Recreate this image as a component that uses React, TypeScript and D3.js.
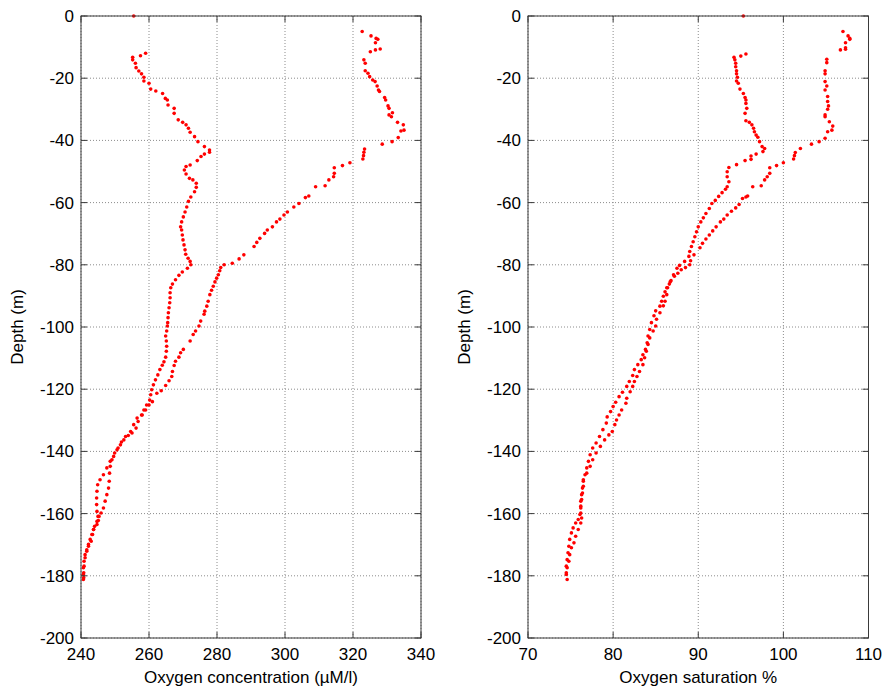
import React from "react";
import * as d3 from "d3";

// ---------- data: [value, depth] pairs ----------
const concProfileA: [number, number][] = [
  [255.5,0],[259.0,-12.0],[257.5,-12.8],[255.2,-13.3],[255.2,-14.1],[256.0,-15.2],[256.2,-16.6],[257.0,-17.7],[257.8,-18.6],[258.5,-19.7],[258.5,-20.9],[260.0,-21.6],[260.5,-23.5],[262.0,-24.1],[264.0,-24.9],[264.8,-26.5],[265.4,-27.0],[265.6,-28.6],[267.4,-29.7],[267.4,-31.3],[268.6,-33.4],[269.9,-34.2],[270.9,-35.0],[271.6,-36.1],[272.1,-37.4],[273.4,-38.8],[274.4,-40.4],[276.3,-42.0],[277.8,-43.1],[277.8,-43.8],[276.3,-44.4],[275.3,-45.2],[274.2,-46.5],[272.1,-47.9],[270.9,-48.4],[270.4,-49.5],[270.9,-50.8],[271.9,-52.2],[272.9,-52.7],[273.9,-53.8],[273.9,-55.1],[273.4,-56.5],[272.3,-58.2],[271.6,-59.6],[271.1,-61.4],[270.6,-63.0],[270.1,-64.6],[269.6,-66.2],[269.3,-67.8],[269.6,-68.8],[269.8,-70.4],[270.0,-72.0],[270.3,-73.6],[270.6,-75.2],[270.8,-76.6],[271.5,-77.9],[272.1,-78.9],[272.3,-80.0],[271.3,-81.1],[269.8,-82.3],[268.8,-83.4],[267.8,-84.8],[266.9,-86.2],[266.4,-87.4],[266.2,-89.0],[266.2,-90.6],[266.1,-92.2],[265.9,-93.8],[265.7,-95.4],[265.6,-97.0],[265.5,-98.6],[265.4,-99.7],[265.2,-101.3],[264.9,-102.9],[265.1,-104.5],[265.2,-106.2],[265.1,-107.8],[264.9,-109.7],[264.4,-111.2],[263.9,-112.3],[263.2,-113.7],[262.6,-115.4],[261.9,-117.0],[261.3,-118.6],[260.8,-120.2],[260.5,-121.8],[260.2,-123.5],[259.3,-125.1],[258.5,-126.7],[257.8,-128.3],[256.8,-130.4],[256.2,-132.5],[255.0,-134.1],[253.9,-134.9],[252.6,-136.3],[251.6,-137.9],[250.6,-139.5],[249.6,-141.6],[248.6,-143.2],[247.6,-145.3],[246.6,-147.5],[245.6,-149.1],[244.9,-150.7],[244.7,-152.8],[244.6,-155.0],[244.6,-157.1],[244.7,-159.3],[245.0,-160.9],[245.1,-162.2],[244.7,-163.5],[243.7,-165.1],[243.2,-166.7],[242.7,-168.3],[242.2,-169.9],[241.7,-171.6],[241.2,-173.2],[240.9,-175.3],[240.7,-177.4],[240.7,-179.6],[240.7,-181.2]
];

const concProfileB: [number, number][] = [
  [322.7,-5.0],[325.3,-6.4],[326.8,-7.2],[327.3,-7.5],[326.6,-8.6],[328.0,-10.6],[326.6,-10.9],[325.1,-11.5],[323.2,-14.1],[323.6,-15.2],[323.6,-17.6],[324.4,-18.4],[324.9,-19.5],[325.8,-20.6],[326.5,-21.1],[327.1,-22.5],[327.5,-23.8],[327.8,-24.3],[329.3,-26.2],[329.6,-27.0],[330.3,-28.9],[330.6,-29.7],[331.6,-31.1],[330.6,-31.8],[331.3,-32.4],[333.1,-34.2],[334.8,-35.0],[335.0,-36.7],[334.1,-37.0],[333.3,-39.1],[331.5,-40.4],[328.6,-41.2],[323.4,-42.8],[323.2,-43.8],[323.1,-44.9],[322.9,-46.0],[319.1,-47.2],[316.9,-48.1],[314.5,-48.8],[314.5,-50.6],[314.3,-51.7],[312.9,-52.7],[311.8,-54.6],[309.0,-54.9],[307.0,-57.9],[306.0,-58.4],[304.1,-60.3],[302.6,-61.4],[300.7,-63.0],[299.7,-64.0],[298.5,-65.3],[297.5,-66.2],[296.3,-67.8],[294.8,-68.8],[294.0,-69.9],[292.6,-71.5],[291.7,-72.8],[290.9,-74.1],[287.9,-76.8],[286.5,-78.1],[284.5,-79.5],[282.1,-80.0],[281.1,-80.9],[280.8,-81.9],[280.4,-83.2],[279.9,-84.3],[279.4,-85.5],[278.9,-86.9],[278.4,-88.2],[277.9,-89.6],[277.4,-91.7],[277.0,-93.3],[276.4,-94.9],[276.2,-95.9],[275.2,-98.1],[274.7,-99.7],[273.7,-101.3],[273.0,-102.4],[272.1,-104.5],[270.1,-107.2],[269.3,-108.3],[268.8,-109.7],[267.8,-111.0],[267.4,-112.4],[266.9,-114.3],[266.7,-115.9],[265.9,-117.3],[264.9,-118.8],[263.6,-120.5],[262.3,-121.3],[261.0,-124.0],[260.0,-125.1],[259.0,-126.7],[258.0,-128.3],[256.5,-129.3],[255.5,-131.4],[254.6,-133.6],[253.1,-135.2],[251.9,-137.0],[250.9,-138.9],[249.9,-140.5],[249.1,-142.7],[248.6,-144.8],[248.4,-147.0],[248.3,-149.6],[248.1,-151.8],[247.6,-153.9],[247.1,-156.0],[246.6,-158.2],[245.9,-159.8],[245.3,-160.9],[244.7,-162.5],[244.0,-164.1],[243.7,-165.1],[243.4,-166.7],[243.0,-168.9],[242.2,-170.5],[241.7,-172.1],[241.2,-174.2],[240.9,-176.9],[240.8,-179.0],[240.8,-180.6]
];

const satProfileA: [number, number][] = [
  [95.3,0],[95.6,-12.2],[95.0,-12.9],[94.2,-13.3],[94.3,-14.1],[94.4,-15.2],[94.4,-16.3],[94.5,-17.6],[94.5,-18.6],[94.6,-19.7],[94.5,-20.9],[94.7,-21.6],[94.9,-23.5],[95.3,-24.9],[95.5,-26.2],[95.6,-27.0],[95.6,-28.1],[95.7,-29.7],[95.5,-31.3],[95.6,-33.7],[96.0,-34.2],[96.3,-35.0],[96.5,-36.1],[96.6,-37.2],[96.8,-38.3],[97.0,-39.0],[97.2,-40.4],[97.5,-42.0],[97.8,-42.6],[97.6,-43.6],[96.8,-44.4],[96.2,-45.0],[96.2,-46.1],[95.5,-46.5],[94.5,-47.8],[93.6,-48.7],[93.4,-50.1],[93.4,-51.7],[93.6,-53.3],[93.4,-54.9],[93.2,-55.7],[92.8,-56.8],[92.4,-58.0],[92.0,-59.3],[91.6,-60.3],[91.3,-61.9],[90.9,-63.5],[90.6,-64.9],[90.3,-66.2],[90.0,-67.8],[89.8,-69.4],[89.6,-71.0],[89.4,-72.6],[89.2,-74.1],[89.0,-75.7],[88.9,-77.3],[89.1,-78.7],[89.0,-80.0],[88.5,-80.9],[88.0,-81.6],[87.6,-82.7],[87.2,-83.7],[86.8,-85.1],[86.6,-86.2],[86.3,-87.4],[86.1,-88.7],[85.9,-90.1],[85.7,-91.7],[85.5,-93.3],[85.0,-94.8],[84.8,-96.4],[84.5,-98.6],[84.3,-100.8],[84.1,-102.9],[84.0,-105.1],[83.8,-107.2],[83.5,-108.9],[83.3,-110.5],[82.9,-112.1],[82.5,-113.7],[82.3,-115.6],[81.9,-117.5],[81.6,-119.1],[81.1,-121.0],[80.7,-122.4],[80.3,-124.2],[80.0,-125.6],[79.7,-127.2],[79.3,-128.9],[79.2,-130.9],[78.8,-133.0],[78.4,-135.2],[78.0,-137.3],[77.6,-138.9],[77.3,-141.1],[77.1,-143.2],[76.9,-145.3],[76.7,-147.5],[76.5,-149.6],[76.4,-151.8],[76.3,-153.9],[76.2,-156.0],[76.2,-158.2],[76.1,-160.3],[75.9,-161.9],[75.6,-163.0],[75.3,-164.6],[75.1,-166.2],[74.9,-168.3],[74.8,-170.5],[74.7,-172.6],[74.6,-174.8],[74.5,-176.9],[74.5,-179.0],[74.6,-181.2]
];

const satProfileB: [number, number][] = [
  [107.0,-5.0],[107.6,-6.4],[107.8,-7.2],[107.8,-7.5],[107.3,-8.6],[107.3,-10.2],[107.3,-10.7],[106.7,-10.9],[105.1,-13.9],[105.1,-15.0],[104.9,-17.6],[104.9,-18.6],[104.9,-21.1],[105.1,-22.5],[104.9,-23.8],[105.2,-25.9],[105.2,-27.5],[105.3,-28.9],[105.2,-30.0],[104.9,-31.8],[104.9,-32.4],[105.4,-34.0],[105.8,-35.4],[105.7,-36.7],[105.2,-37.2],[104.9,-39.3],[104.2,-40.4],[103.3,-41.2],[102.0,-42.6],[101.4,-43.9],[101.3,-44.9],[101.2,-46.0],[100.0,-47.2],[99.2,-48.1],[98.4,-48.8],[98.4,-50.6],[98.1,-51.7],[97.8,-52.7],[97.4,-54.6],[96.4,-54.9],[95.8,-57.9],[95.6,-58.2],[95.2,-58.7],[94.8,-60.6],[94.4,-61.7],[93.9,-62.8],[93.4,-64.0],[93.0,-65.3],[92.6,-66.2],[92.1,-67.8],[91.7,-69.1],[91.3,-70.4],[90.9,-71.7],[90.5,-73.1],[90.2,-74.5],[89.5,-76.8],[88.4,-78.9],[87.8,-80.2],[87.5,-81.1],[87.1,-83.2],[86.7,-85.5],[86.4,-87.4],[86.3,-89.6],[86.1,-91.7],[85.9,-93.2],[85.5,-95.4],[85.1,-97.5],[85.0,-99.7],[84.7,-101.3],[84.3,-103.5],[84.1,-105.6],[83.9,-107.8],[83.7,-109.9],[83.5,-112.1],[83.1,-114.3],[82.8,-115.9],[82.5,-117.5],[82.3,-119.1],[82.0,-120.8],[81.6,-122.9],[81.5,-124.5],[81.0,-126.7],[80.7,-128.3],[80.4,-129.9],[80.2,-131.4],[79.9,-133.6],[79.5,-134.7],[79.0,-136.3],[78.5,-138.4],[78.0,-140.5],[77.6,-142.7],[77.3,-144.8],[76.9,-147.0],[76.5,-149.1],[76.5,-151.2],[76.4,-153.4],[76.3,-155.5],[76.2,-157.6],[76.2,-159.8],[76.3,-161.4],[76.2,-163.0],[75.9,-165.1],[75.6,-167.3],[75.4,-169.4],[75.1,-171.0],[74.9,-173.2],[74.8,-175.3],[74.6,-177.4],[74.5,-179.6]
];

const depthTicks = [0, -20, -40, -60, -80, -100, -120, -140, -160, -180, -200];
const concTicks = [240, 260, 280, 300, 320, 340];
const satTicks = [70, 80, 90, 100, 110];
const concLabel = "Oxygen concentration (\u00B5M/l)";
const satLabel = "Oxygen saturation %";
const depthLabel = "Depth (m)";

const W = 887;
const H = 690;
const TOP = 16;
const BOTTOM = 638;
const FONT = "'Liberation Sans', Arial, Helvetica, sans-serif";
const FS = 17;

type PanelProps = {
  left: number;
  right: number;
  domain: [number, number];
  xTicks: number[];
  xLabel: string;
  series: [number, number][][];
};

function Panel({ left, right, domain, xTicks, xLabel, series }: PanelProps) {
  const x = d3.scaleLinear().domain(domain).range([left, right]);
  const y = d3.scaleLinear().domain([-200, 0]).range([BOTTOM, TOP]);
  const tickLen = 6;
  const axisColor = "#3a3a3a";
  const gridColor = "#8c8c8c";
  return (
    <g>
      {xTicks.map((t) => (
        <line key={"gx" + t} x1={x(t)} x2={x(t)} y1={TOP} y2={BOTTOM}
          stroke={gridColor} strokeWidth={1} strokeDasharray="1,2" />
      ))}
      {depthTicks.map((t) => (
        <line key={"gy" + t} x1={left} x2={right} y1={y(t)} y2={y(t)}
          stroke={gridColor} strokeWidth={1} strokeDasharray="1,2" />
      ))}
      {series.map((s, si) => (
        <g key={"s" + si}>
          {s.map(([v, d], i) => (
            <circle key={i} cx={x(v)} cy={y(d)} r={1.8} fill="#ff0000" />
          ))}
        </g>
      ))}
      <rect x={left} y={TOP} width={right - left} height={BOTTOM - TOP}
        fill="none" stroke={axisColor} strokeWidth={1} />
      {xTicks.map((t) => (
        <g key={"tx" + t}>
          <line x1={x(t)} x2={x(t)} y1={BOTTOM} y2={BOTTOM - tickLen} stroke={axisColor} />
          <line x1={x(t)} x2={x(t)} y1={TOP} y2={TOP + tickLen} stroke={axisColor} />
          <text x={x(t)} y={660} textAnchor="middle" fontSize={FS} fontFamily={FONT} fill="#000">
            {t}
          </text>
        </g>
      ))}
      {depthTicks.map((t) => (
        <g key={"ty" + t}>
          <line x1={left} x2={left + tickLen} y1={y(t)} y2={y(t)} stroke={axisColor} />
          <line x1={right} x2={right - tickLen} y1={y(t)} y2={y(t)} stroke={axisColor} />
          <text x={left - 7} y={y(t) + 6} textAnchor="end" fontSize={FS} fontFamily={FONT} fill="#000">
            {t}
          </text>
        </g>
      ))}
      <text x={(left + right) / 2} y={683} textAnchor="middle" fontSize={FS} fontFamily={FONT} fill="#000">
        {xLabel}
      </text>
      <text transform={`translate(${left - 58},${(TOP + BOTTOM) / 2}) rotate(-90)`}
        textAnchor="middle" fontSize={FS} fontFamily={FONT} fill="#000">
        {depthLabel}
      </text>
    </g>
  );
}

export default function App() {
  return (
    <svg width={W} height={H} viewBox={`0 0 ${W} ${H}`}
      style={{ position: "absolute", left: 0, top: 0, background: "#fff" }}>
      <rect x={0} y={0} width={W} height={H} fill="#fff" />
      <Panel left={81} right={421} domain={[240, 340]} xTicks={concTicks}
        xLabel={concLabel} series={[concProfileA, concProfileB]} />
      <Panel left={528} right={868.5} domain={[70, 110]} xTicks={satTicks}
        xLabel={satLabel} series={[satProfileA, satProfileB]} />
    </svg>
  );
}
